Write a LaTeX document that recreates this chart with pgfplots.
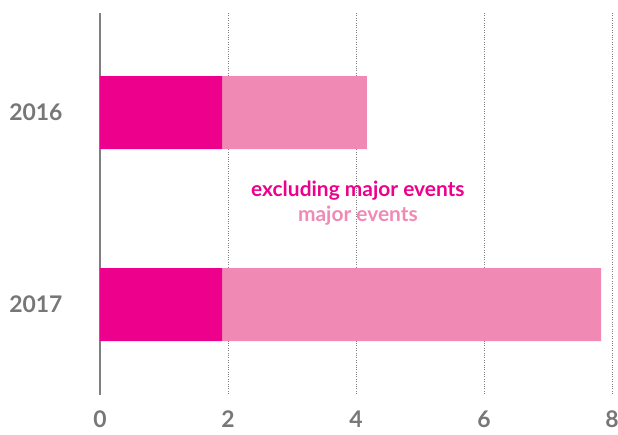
\documentclass[border=0pt]{standalone}
\usepackage{pgfplots}
\pgfplotsset{compat=1.18}
\usepackage{fontspec}
\setmainfont{Lato}
\definecolor{darkpink}{HTML}{EC008C}
\definecolor{lightpink}{HTML}{F08AB5}
\definecolor{labgray}{HTML}{77777A}
\definecolor{axgray}{HTML}{808080}
\begin{document}
\begin{tikzpicture}
\begin{axis}[
  xbar stacked,
  scale only axis,
  width=512bp, height=382bp,
  xmin=0, xmax=8,
  ymin=-0.518, ymax=1.471,
  y dir=reverse,
  bar width=0.38,
  ytick={0,1}, yticklabels={2016,2017},
  xtick={0,2,4,6,8},
  major tick length=0pt,
  axis line style={draw=none},
  xmajorgrids,
  grid style={dotted, gray, line width=0.7pt},
  ticklabel style={font=\fontsize{23}{26}\selectfont\bfseries, text=labgray},
  xticklabel style={yshift=-12bp},
  yticklabel style={xshift=-34bp},
  /pgf/number format/assume math mode=true,
  clip=false,
]
\addplot[fill=darkpink, draw=none] coordinates {(1.91,0) (1.91,1)};
\addplot[fill=lightpink, draw=none] coordinates {(2.26,0) (5.92,1)};
\draw[axgray, line width=2pt] (axis cs:0,-0.518) -- (axis cs:0,1.471);
\node[font=\fontsize{21}{24}\selectfont\bfseries, text=darkpink] at (axis cs:4.03,0.405) {excluding major events};
\node[font=\fontsize{21}{24}\selectfont\bfseries, text=lightpink] at (axis cs:4.03,0.535) {major events};
\coordinate (bl) at (axis cs:-1.5625,1.674);
\coordinate (tr) at (axis cs:8.094,-0.586);
\end{axis}
\pgfresetboundingbox
\path[use as bounding box] (bl) rectangle (tr);
\end{tikzpicture}
\end{document}
